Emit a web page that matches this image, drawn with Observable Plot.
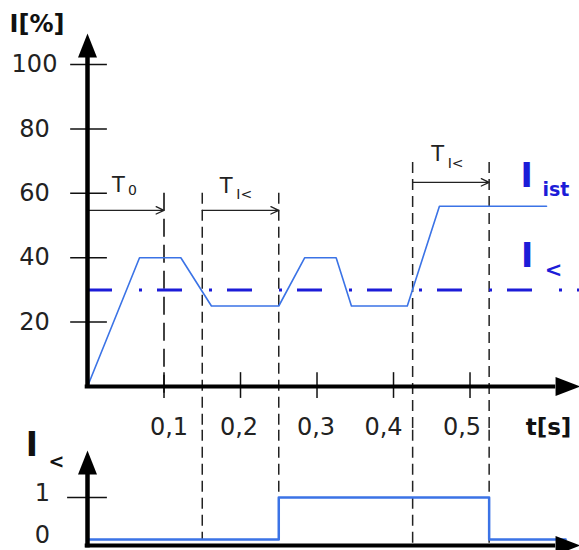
<!DOCTYPE html>
<html>
<head>
<meta charset="utf-8">
<script src="https://cdn.jsdelivr.net/npm/d3@7"></script>
<script src="https://cdn.jsdelivr.net/npm/@observablehq/plot@0.6"></script>
<style>
  html, body { margin: 0; padding: 0; background: #fff; }
  #wrap { position: relative; width: 579px; height: 550px; overflow: hidden; background: #fff; }
  #wrap svg { position: absolute; left: 0; overflow: visible; }
</style>
</head>
<body>
<div id="wrap"></div>
<script>
// ---------------- DATA ----------------
// Actual current I_ist [%] over time t [s]
const timeS      = [0, 0.068, 0.122, 0.162, 0.25, 0.284, 0.325, 0.345, 0.418, 0.46, 0.60];
const currentPct = [0, 40,    40,    25,    25,   40,    40,    25,    25,    56,   56];
// Undercurrent threshold I< [%]
const thresholdPct = [30];
// Binary output I< (step)
const stepTime  = [0, 0.25, 0.525, 0.625];
const stepState = [0, 1,    0,     0];
// Axis ticks
const xTickValues = [0.1, 0.2, 0.3, 0.4, 0.5];
const xTickLabels = ["0,1", "0,2", "0,3", "0,4", "0,5"];
const yTickValues = [20, 40, 60, 80, 100];
const yTickLabels = ["20", "40", "60", "80", "100"];
const stateTickValues = [0, 1];
const stateTickLabels = ["0", "1"];
// Marker times (dashed verticals) and timing intervals
const markerTimes   = [0.1, 0.15, 0.25, 0.425, 0.525];
const intervalStart = [0, 0.15, 0.425];
const intervalEnd   = [0.1, 0.25, 0.525];
const intervalSub   = ["0", "I<", "I<"];

// ---------------- LAYOUT ----------------
const W = 579;
const X_DOMAIN = [0, 0.6431];
const FONT = "DejaVu Sans";
const INK = "#222";
const BLUE_LINE = "#3b73e6";
const BLUE_DARK = "#1c1cd8";
const markerTopPct   = [60, 60, 60, 69.6, 69.6];
const markerBotPct   = [-3.7, -14, -14, -14, -14];
const markerDash     = ["18,8", "11,6", "11,6", "11,6", "11,6"];
const markerBotState = [null, 0, 1, -0.143, -0.143];
const arrowLevel     = [54.7, 54.7, 63.4];
const xLabelShift    = [5, -1.5, -1, -10, -8];
const tOffsets   = [[31, -25.5], [24, -24.5], [25, -28]];
const subOffsets = [[45, -20], [42, -16], [43, -19]];

const arrowUp = { draw(ctx) { ctx.moveTo(0, 0); ctx.lineTo(9.5, 24); ctx.lineTo(-9.5, 24); ctx.closePath(); } };
const arrowRight = { draw(ctx) { ctx.moveTo(0, 0); ctx.lineTo(-25, 9.5); ctx.lineTo(-25, -9.5); ctx.closePath(); } };

const currentRows = timeS.map((t, i) => ({ t, v: currentPct[i] }));
const stepRows = stepTime.map((t, i) => ({ t, v: stepState[i] }));
const xTickRows = xTickValues.map((t, i) => ({ t, label: xTickLabels[i], shift: xLabelShift[i] }));
const yTickRows = yTickValues.map((v, i) => ({ v, label: yTickLabels[i] }));
const stateTickRows = stateTickValues.map((v, i) => ({ v, label: stateTickLabels[i] }));
const markerRows = markerTimes.map((t, i) => ({ t, top: markerTopPct[i], bot: markerBotPct[i], dash: markerDash[i], sbot: markerBotState[i] }));
const intervalRows = intervalStart.map((s, i) => ({ start: s, end: intervalEnd[i], level: arrowLevel[i], sub: intervalSub[i] }));

const pxPerT = (W - 87) / (X_DOMAIN[1] - X_DOMAIN[0]);

// ---------------- TOP CHART ----------------
const topMarks = [];
markerRows.forEach(m => {
  topMarks.push(Plot.ruleX([m], { x: "t", y1: "top", y2: "bot", stroke: INK, strokeWidth: m.dash === "18,8" ? 1.7 : 1.5, strokeDasharray: m.dash }));
});
topMarks.push(
  Plot.ruleY(thresholdPct, { y: d => d, x1: 0, x2: X_DOMAIN[1], stroke: BLUE_DARK, strokeWidth: 3, strokeDasharray: "25,27,3,15" }),
  Plot.line(currentRows, { x: "t", y: "v", stroke: BLUE_LINE, strokeWidth: 1.6 }),
  Plot.arrow(intervalRows, { x1: "start", x2: "end", y1: "level", y2: "level", stroke: INK, strokeWidth: 1.3, headLength: 10, headAngle: 50 }),
  // axes
  Plot.ruleY(yTickRows, { y: "v", x1: -0.022, x2: 0.026, stroke: "#111", strokeWidth: 1.5 }),
  Plot.ruleX(xTickRows, { x: "t", y1: -3.7, y2: 4.3, stroke: "#111", strokeWidth: 1.5 }),
  Plot.ruleX([0], { x: d => d, y1: -0.6, y2: 102.5, stroke: "#000", strokeWidth: 4.5 }),
  Plot.ruleY([0], { y: d => d, x1: -0.003, x2: 0.612, stroke: "#000", strokeWidth: 4 }),
  Plot.dot([{ t: 0, v: 109.6 }], { x: "t", y: "v", symbol: arrowUp, fill: "#000", stroke: "none", r: 5 }),
  Plot.dot([{ t: 0.6445, v: 0 }], { x: "t", y: "v", symbol: arrowRight, fill: "#000", stroke: "none", r: 5 }),
  // tick labels
  Plot.text(yTickRows, { x: 0, y: "v", text: "label", dx: -53, fontSize: 24, fill: INK }),
  Plot.text(xTickRows, { x: d => d.t + d.shift / pxPerT, y: 0, text: "label", dy: 41, fontSize: 24, fill: INK }),
  Plot.text(["I[%]"], { x: 0, y: 100, text: d => d, dx: -50.5, dy: -40, fontSize: 24, fontWeight: "bold", fill: "#111" }),
  Plot.text(["t[s]"], { x: 0.6, y: 0, text: d => d, dx: 2, dy: 41, fontSize: 23, fontWeight: "bold", fill: "#111" }),
  // right-hand labels
  Plot.text(["I"], { x: 0.6, y: 56, text: d => d, dx: -20, dy: -29.3, fontSize: 33, fontWeight: "bold", fill: BLUE_DARK }),
  Plot.text(["ist"], { x: 0.6, y: 56, text: d => d, dx: -4, dy: -16.7, textAnchor: "start", fontSize: 19, fontWeight: "bold", fill: BLUE_DARK }),
  Plot.text(["I"], { x: 0.6, y: 30, text: d => d, dx: -19.5, dy: -33, fontSize: 33, fontWeight: "bold", fill: BLUE_DARK }),
  Plot.text(["<"], { x: 0.6, y: 30, text: d => d, dx: 7, dy: -19.4, fontSize: 21, fontWeight: "bold", fill: BLUE_DARK })
);
intervalRows.forEach((r, i) => {
  topMarks.push(
    Plot.text([r], { x: "start", y: "level", text: () => "T", dx: tOffsets[i][0], dy: tOffsets[i][1], fontSize: 21, fill: INK }),
    Plot.text([r], { x: "start", y: "level", text: "sub", dx: subOffsets[i][0], dy: subOffsets[i][1], fontSize: 14, fill: INK })
  );
});

const topSvg = Plot.plot({
  width: W, height: 430,
  marginLeft: 87, marginRight: 0, marginTop: 64, marginBottom: 44,
  x: { domain: X_DOMAIN, axis: null },
  y: { domain: [0, 100], axis: null },
  style: { fontFamily: FONT, background: "transparent", overflow: "visible" },
  marks: topMarks
});

// ---------------- BOTTOM CHART ----------------
const botMarks = [];
markerRows.filter(m => m.sbot !== null).forEach(m => {
  botMarks.push(Plot.ruleX([m], { x: "t", y1: 2.6, y2: "sbot", stroke: INK, strokeWidth: 1.5, strokeDasharray: "11,6" }));
});
botMarks.push(
  Plot.line(stepRows, { x: "t", y: "v", curve: "step-after", stroke: BLUE_LINE, strokeWidth: 2.5 }),
  Plot.ruleY([1], { y: d => d, x1: -0.026, x2: 0.026, stroke: "#111", strokeWidth: 1.5 }),
  Plot.ruleX([0], { x: d => d, y1: -0.2, y2: 1.6, stroke: "#000", strokeWidth: 4.5 }),
  Plot.ruleY([-0.143], { y: d => d, x1: -0.003, x2: 0.612, stroke: "#000", strokeWidth: 4 }),
  Plot.dot([{ t: 0, v: 2.12 }], { x: "t", y: "v", symbol: arrowUp, fill: "#000", stroke: "none", r: 5 }),
  Plot.dot([{ t: 0.6445, v: -0.143 }], { x: "t", y: "v", symbol: arrowRight, fill: "#000", stroke: "none", r: 5 }),
  Plot.text(stateTickRows, { x: 0, y: "v", text: "label", dx: -45, dy: -4, fontSize: 24, fill: INK }),
  Plot.text(["I"], { x: 0, y: 1, text: d => d, dx: -55.5, dy: -52, fontSize: 33, fontWeight: "bold", fill: "#111" }),
  Plot.text(["<"], { x: 0, y: 1, text: d => d, dx: -31, dy: -36, fontSize: 19, fontWeight: "bold", fill: "#111" })
);

const botSvg = Plot.plot({
  width: W, height: 120,
  marginLeft: 87, marginRight: 0, marginTop: 67, marginBottom: 11,
  x: { domain: X_DOMAIN, axis: null },
  y: { domain: [0, 1], axis: null },
  style: { fontFamily: FONT, background: "transparent", overflow: "visible" },
  marks: botMarks
});

const wrap = document.getElementById("wrap");
topSvg.style.top = "0px";
botSvg.style.top = "430px";
wrap.appendChild(topSvg);
wrap.appendChild(botSvg);
</script>
</body>
</html>
